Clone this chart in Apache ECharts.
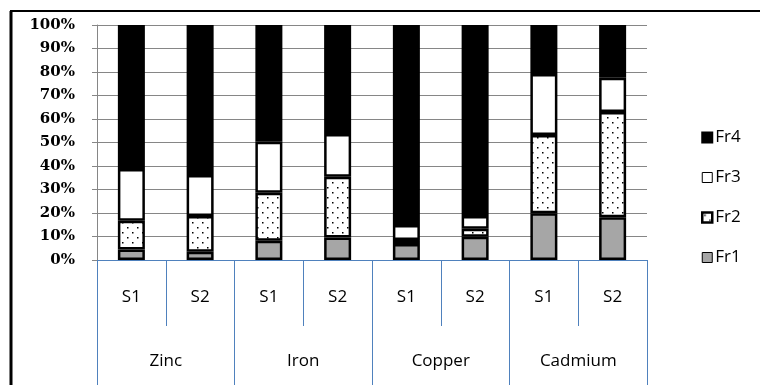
<!DOCTYPE html>
<html>
<head>
<meta charset="utf-8">
<script src="https://cdn.jsdelivr.net/npm/echarts@6/dist/echarts.min.js"></script>
<style>
html,body{margin:0;padding:0;background:#fff;}
#c{width:760px;height:385px;}
</style>
</head>
<body>
<div id="c"></div>
<script>
// ---- data ----
var samples = ['S1','S2','S1','S2','S1','S2','S1','S2'];
var metals = ['Zinc','Iron','Copper','Cadmium'];
var fr1 = [4.5, 3.5, 8.2, 9.6, 6.8, 9.9, 19.9, 18.2];
var fr2 = [12.2, 15.2, 20.4, 25.8, 1.7, 3.4, 33.3, 44.8];
var fr3 = [22.0, 17.5, 21.7, 18.2, 6.4, 5.4, 25.9, 14.6];
var fr4 = [61.3, 63.8, 49.7, 46.4, 85.1, 81.3, 20.9, 22.4];
var seriesNames = ['Fr1','Fr2','Fr3','Fr4'];
var yTicks = [0,10,20,30,40,50,60,70,80,90,100];

// dotted pattern for Fr2
var pat = document.createElement('canvas');
pat.width = 10; pat.height = 10;
var pc = pat.getContext('2d');
pc.fillStyle = '#fff'; pc.fillRect(0,0,10,10);
pc.fillStyle = '#000';
pc.fillRect(2,2,1.5,1.5);
pc.fillRect(7,7,1.5,1.5);

var chart = echarts.init(document.getElementById('c'), null, {renderer:'canvas'});
var border = {borderColor:'#000', borderWidth:2.5};
function st(color){ return Object.assign({color:color}, border); }

var option = {
  animation:false,
  backgroundColor:'#fff',
  grid:{left:97, right:113, top:25, bottom:125},
  legend:{
    orient:'vertical', left:696, top:124,
    itemWidth:10, itemHeight:10, itemGap:23,
    icon:'rect',
    textStyle:{fontFamily:'Open Sans', fontSize:17, color:'#000', padding:[0,0,0,-2]},
    data:[
      {name:'Fr4'},
      {name:'Fr3', itemStyle:{borderWidth:1}},
      {name:'Fr2', itemStyle:{borderWidth:2.5}},
      {name:'Fr1', itemStyle:{borderWidth:1}}
    ]
  },
  xAxis:[{
    type:'category', data:samples, position:'bottom',
    axisLine:{lineStyle:{color:'#4F81BD', width:1}},
    axisTick:{show:true, interval:0, length:66, lineStyle:{color:'#4F81BD', width:1}},
    axisLabel:{interval:0, margin:29, fontFamily:'Open Sans', fontSize:17, color:'#000'}
  },{
    type:'category', data:metals, position:'bottom',
    axisLine:{lineStyle:{color:'#4F81BD', width:1}},
    axisTick:{show:true, interval:0, length:130, lineStyle:{color:'#4F81BD', width:1}},
    axisLabel:{interval:0, margin:93, fontFamily:'Open Sans', fontSize:17, color:'#000'}
  }],
  yAxis:{
    type:'value', min:yTicks[0], max:yTicks[yTicks.length-1], interval:10,
    axisLine:{show:true, lineStyle:{color:'#868686'}},
    axisTick:{show:true, length:5, lineStyle:{color:'#868686'}},
    splitLine:{lineStyle:{color:'#868686', width:1}},
    axisLabel:{formatter:'{value}%', margin:22, fontFamily:'DejaVu Serif', fontWeight:'bold', fontSize:15, color:'#000'}
  },
  series:[
    {name:seriesNames[0], type:'bar', stack:'a', data:fr1, barWidth:27, itemStyle:st('#A6A6A6')},
    {name:seriesNames[1], type:'bar', stack:'a', data:fr2, barWidth:27, itemStyle:st({image:pat, repeat:'repeat'})},
    {name:seriesNames[2], type:'bar', stack:'a', data:fr3, barWidth:27, itemStyle:st('#fff')},
    {name:seriesNames[3], type:'bar', stack:'a', data:fr4, barWidth:27, itemStyle:st('#000')}
  ],
  graphic:[
    {type:'line', shape:{x1:11, y1:11, x2:11, y2:385}, style:{stroke:'#000', lineWidth:3}, z:100},
    {type:'line', shape:{x1:10, y1:11, x2:760, y2:11}, style:{stroke:'#000', lineWidth:2}, z:100}
  ]
};
chart.setOption(option);
</script>
</body>
</html>
